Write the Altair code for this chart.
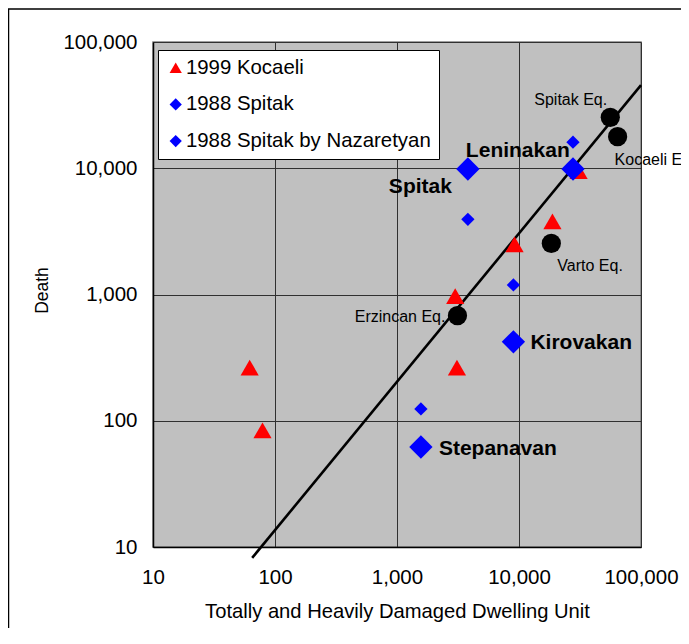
import altair as alt
import pandas as pd

FONT = "Liberation Sans"

# ---- data ----
series_names = ["1999 Kocaeli", "1988 Spitak", "1988 Spitak by Nazaretyan"]

kocaeli_units = [62, 79, 3000, 3100, 9200, 18800, 30800]
kocaeli_deaths = [264, 84, 970, 264, 2500, 3800, 9500]

spitak_units = [3810, 27700, 9000, 1570]
spitak_deaths = [9860, 9860, 422, 62]

nazaretyan_units = [27700, 3810, 9000, 1570]
nazaretyan_deaths = [16100, 3940, 1190, 124]

eq_names = ["Spitak Eq.", "Kocaeli Eq.", "Varto Eq.", "Erzincan Eq."]
eq_units = [56000, 64300, 18400, 3130]
eq_deaths = [25300, 17800, 2540, 680]

fit_units = [65, 100000]
fit_deaths = [8.2, 45600]

city_labels = ["Leninakan", "Spitak", "Kirovakan", "Stepanavan"]
city_anchor = [0, 0, 2, 3]  # index into spitak points

axis_ticks = [10, 100, 1000, 10000, 100000]

# marker styles per series
marker_size = {"1999 Kocaeli": 330, "1988 Spitak": 545, "1988 Spitak by Nazaretyan": 177}

# ---- tables ----
names = ([series_names[0]] * len(kocaeli_units)
         + [series_names[1]] * len(spitak_units)
         + [series_names[2]] * len(nazaretyan_units))
pts = pd.DataFrame(
    {
        "units": kocaeli_units + spitak_units + nazaretyan_units,
        "deaths": kocaeli_deaths + spitak_deaths + nazaretyan_deaths,
        "series": names,
        "sz": [marker_size[n] for n in names],
        "ord": list(range(len(names))),
    }
)
eq = pd.DataFrame({"units": eq_units, "deaths": eq_deaths, "name": eq_names})
fit = pd.DataFrame({"units": fit_units, "deaths": fit_deaths})

xs = alt.Scale(type="log", domain=[10, 100000], nice=False)
ys = alt.Scale(type="log", domain=[10, 100000], nice=False)

X = alt.X(
    "units:Q",
    scale=xs,
    axis=alt.Axis(
        values=axis_ticks,
        format=",",
        title="Totally and Heavily Damaged Dwelling Unit",
        labelPadding=20,
        labelFlush=False,
        labelOverlap=False,
        titleY=64,
        titleBaseline="middle",
        titleFontSize=20.2,
    ),
)
Y = alt.Y(
    "deaths:Q",
    scale=ys,
    axis=alt.Axis(
        values=axis_ticks,
        format=",",
        title="Death",
        labelPadding=16,
        labelFlush=False,
        labelOverlap=False,
        titleX=-111,
        titleY=248,
        titleAngle=270,
        titleAlign="center",
        titleBaseline="middle",
        titleFontSize=17.5,
    ),
)

frame = (
    alt.Chart(pd.DataFrame({"k": [0]}))
    .mark_rect(fillOpacity=0, stroke="#000000", strokeWidth=1.5)
    .encode(
        x=alt.value(-144.5),
        x2=alt.value(700),
        y=alt.value(-33),
        y2=alt.value(700),
    )
)

line = alt.Chart(fit).mark_line(color="black", strokeWidth=2.6, clip=False).encode(x=X, y=Y)

circles = (
    alt.Chart(eq)
    .mark_circle(color="black", size=370, opacity=1)
    .encode(x=X, y=Y)
)

points = (
    alt.Chart(pts)
    .mark_point(filled=True, opacity=1, strokeWidth=0)
    .encode(
        x=X,
        y=Y,
        color=alt.Color(
            "series:N",
            scale=alt.Scale(domain=series_names, range=["#FF0000", "#0000FF", "#0000FF"]),
            legend=alt.Legend(
                title=None,
                orient="none",
                legendX=5,
                legendY=8,
                fillColor="white",
                strokeColor="black",
                padding=7.5,
                rowPadding=15.7,
                symbolOffset=0,
                symbolSize=150,
                labelOffset=0,
                labelFont=FONT,
                labelFontSize=20.4,
                labelColor="black",
                labelLimit=400,
            ),
        ),
        shape=alt.Shape(
            "series:N",
            scale=alt.Scale(domain=series_names, range=["triangle-up", "diamond", "diamond"]),
        ),
        size=alt.Size("sz:Q", scale=None, legend=None),
        order=alt.Order("ord:Q"),
    )
)

layers = [frame, line, circles, points]

# city labels (bold), anchored to the Spitak points
city_style = {
    "Leninakan": (-2, -12, "left"),
    "Spitak": (-79, 24, "left"),
    "Kirovakan": (17, 7, "left"),
    "Stepanavan": (18, 8, "left"),
}
for lab, idx in zip(city_labels, city_anchor):
    dx, dy, al = city_style[lab]
    d = pd.DataFrame({"units": [spitak_units[idx]], "deaths": [spitak_deaths[idx]], "t": [lab]})
    layers.append(
        alt.Chart(d)
        .mark_text(font=FONT, fontSize=21, fontWeight="bold", color="black",
                   align=al, baseline="alphabetic", dx=dx, dy=dy)
        .encode(x=X, y=Y, text="t:N")
    )

eq_style = {
    "Spitak Eq.": (-76, -12, "left"),
    "Kocaeli Eq.": (-3, 28, "left"),
    "Varto Eq.": (6, 28, "left"),
    "Erzincan Eq.": (-12, 6, "right"),
}
for nm, u, dd in zip(eq_names, eq_units, eq_deaths):
    dx, dy, al = eq_style[nm]
    d = pd.DataFrame({"units": [u], "deaths": [dd], "t": [nm]})
    layers.append(
        alt.Chart(d)
        .mark_text(font=FONT, fontSize=16, color="black",
                   align=al, baseline="alphabetic", dx=dx, dy=dy)
        .encode(x=X, y=Y, text="t:N")
    )

chart = (
    alt.layer(*layers)
    .properties(
        width=488,
        height=505,
        padding={"left": 145, "top": 34, "right": 40, "bottom": 81},
        autosize=alt.AutoSizeParams(type="none"),
    )
    .configure_view(fill="#C0C0C0", stroke="#808080", strokeWidth=1.5)
    .configure_axis(
        labelFont=FONT,
        titleFont=FONT,
        labelFontSize=20.5,
        labelColor="black",
        titleColor="black",
        titleFontWeight="normal",
        ticks=False,
        tickSize=0,
        domainColor="black",
        domainWidth=1.5,
        grid=True,
        gridColor="#303030",
        gridWidth=1,
        gridOpacity=1,
    )
)

chart.save("out.html", embed_options={"renderer": "svg", "actions": False})
